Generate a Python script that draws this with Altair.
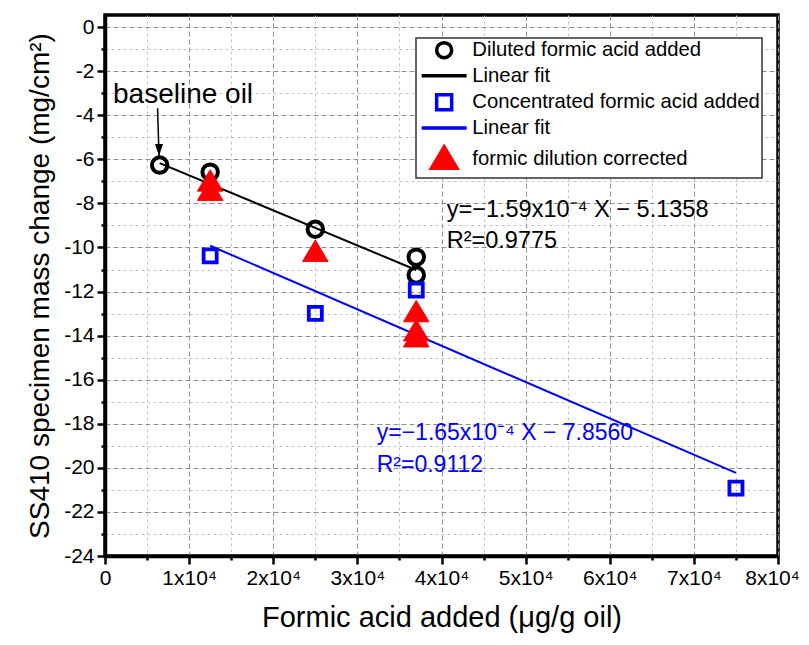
import altair as alt
import pandas as pd

# ---------------- data ----------------
dil_x = [6500, 12500, 25000, 37000, 37000]
dil_y = [-6.26, -6.58, -9.17, -10.44, -11.25]

con_x = [12500, 25000, 37000, 75000]
con_y = [-10.38, -12.99, -11.93, -20.92]

cor_x = [12500, 12500, 25000, 37000, 37000, 37000]
cor_y = [-7.0, -7.42, -10.19, -12.93, -13.8, -14.07]

fit_dil_x = [6500, 37000]
fit_dil_y = [-6.17, -11.02]
fit_con_x = [12500, 75000]
fit_con_y = [-9.92, -20.23]

keys = ["dil", "fit1", "con", "fit2", "cor"]
key_labels = ["Diluted formic acid added", "Linear fit",
              "Concentrated formic acid added", "Linear fit",
              "formic dilution corrected"]
stroke_colors = ["#000000", "#000000", "#0000FF", "#0000FF", "#FF0000"]
fill_colors = ["transparent", "transparent", "transparent", "transparent", "#FF0000"]
TRI = "M-1.7,1.3L0,-1.55L1.7,1.3Z"
LINE = "M-3,0H3"
shapes = ["circle", LINE, "square", LINE, TRI]

eq_text = ["y=\u22121.59x10\u207b\u2074 X \u2212 5.1358", "R\u00b2=0.9775",
           "y=\u22121.65x10\u207b\u2074 X \u2212 7.8560", "R\u00b2=0.9112"]
eq_x = [40620, 40620, 32300, 32300]
eq_y = [-8.61, -10.04, -18.74, -20.18]
eq_color = ["#000000", "#000000", "#0000FF", "#0000FF"]
eq_size = [23.5, 23.5, 23, 23]

note_text = ["baseline oil"]
note_x = [950]
note_y = [-3.45]
arrow_x = [6250]
arrow_y = [-3.68]
arrow_x2 = [6420]
arrow_y2 = [-5.85]

x_ticks = list(range(0, 80001, 5000))
y_ticks = list(range(-24, 1, 1))

FONT = "Liberation Sans"

# ---------------- tables ----------------
df_dil = pd.DataFrame({"x": dil_x, "y": dil_y, "key": "dil"})
df_con = pd.DataFrame({"x": con_x, "y": con_y, "key": "con"})
df_cor = pd.DataFrame({"x": cor_x, "y": cor_y, "key": "cor"})
df_f1 = pd.DataFrame({"x": fit_dil_x, "y": fit_dil_y, "key": "fit1"})
df_f2 = pd.DataFrame({"x": fit_con_x, "y": fit_con_y, "key": "fit2"})
df_eq = pd.DataFrame({"x": eq_x, "y": eq_y, "t": eq_text, "c": eq_color, "s": eq_size})
df_note = pd.DataFrame({"x": note_x, "y": note_y, "t": note_text})
df_arrow = pd.DataFrame({"x": arrow_x, "y": arrow_y, "x2": arrow_x2, "y2": arrow_y2})
df_head = pd.DataFrame({"x": arrow_x2, "y": arrow_y2})

x_axis = alt.Axis(
    values=x_ticks,
    labelExpr="datum.value % 10000 != 0 ? '' : (datum.value == 0 ? '0' : (datum.value / 10000) + 'x10\u2074')",
    labelOffset={"condition": {"test": "datum.value == 80000", "value": -6}, "value": 0},
    title="Formic acid added (\u03bcg/g oil)",
    titleFontSize=29,
    tickSize={"condition": {"test": "datum.value % 10000 != 0", "value": 4}, "value": 8},
    gridColor={"condition": {"test": "datum.value % 10000 != 0", "value": "#c4c4c4"}, "value": "#909090"},
    gridDash={"condition": {"test": "datum.value % 10000 != 0", "value": [3, 3]}, "value": [5, 3]},
    titlePadding=15,
)
y_axis = alt.Axis(
    values=y_ticks,
    labelExpr="datum.value % 2 != 0 ? '' : '' + datum.value",
    title="SS410 specimen mass change (mg/cm\u00b2)",
    titleFontSize=28,
    tickSize={"condition": {"test": "datum.value % 2 != 0", "value": 4}, "value": 8},
    gridColor={"condition": {"test": "datum.value % 2 != 0", "value": "#c4c4c4"}, "value": "#909090"},
    gridDash={"condition": {"test": "datum.value % 2 != 0", "value": [3, 3]}, "value": [5, 3]},
    titlePadding=9,
)

xs = alt.Scale(domain=[0, 80000], nice=False, zero=False)
ys = alt.Scale(domain=[-24, 0.55], nice=False, zero=False)

legend = alt.Legend(
    title=None,
    orient="none",
    legendX=311,
    legendY=23,
    labelExpr="datum.label == 'dil' ? 'Diluted formic acid added' : datum.label == 'con' ? 'Concentrated formic acid added' : datum.label == 'cor' ? 'formic dilution corrected' : 'Linear fit'",
)


def X():
    return alt.X("x:Q", scale=xs, axis=x_axis)


def Y():
    return alt.Y("y:Q", scale=ys, axis=y_axis)


def key_enc():
    return dict(
        stroke=alt.Stroke("key:N", scale=alt.Scale(domain=keys, range=stroke_colors), legend=legend),
        fill=alt.Fill("key:N", scale=alt.Scale(domain=keys, range=fill_colors), legend=legend),
        shape=alt.Shape("key:N", scale=alt.Scale(domain=keys, range=shapes), legend=legend),
    )


line1 = alt.Chart(df_f1).mark_line(strokeWidth=2).encode(
    x=X(), y=Y(), stroke=key_enc()["stroke"])
line2 = alt.Chart(df_f2).mark_line(strokeWidth=2).encode(
    x=X(), y=Y(), stroke=key_enc()["stroke"])

pts_dil = alt.Chart(df_dil).mark_point(size=240, strokeWidth=4, opacity=1).encode(
    x=X(), y=Y(), **key_enc())
pts_con = alt.Chart(df_con).mark_point(size=170, strokeWidth=3.8, opacity=1).encode(
    x=X(), y=Y(), **key_enc())
pts_cor = alt.Chart(df_cor).mark_point(size=225, strokeWidth=1, opacity=1).encode(
    x=X(), y=Y(), **key_enc())

eqs = alt.Chart(df_eq).mark_text(
    align="left", baseline="alphabetic", font=FONT
).encode(x=X(), y=Y(), text="t:N", color=alt.Color("c:N", scale=None),
         size=alt.Size("s:Q", scale=None))

note = alt.Chart(df_note).mark_text(
    align="left", baseline="alphabetic", font=FONT, fontSize=28, color="black"
).encode(x=X(), y=Y(), text="t:N")

arrow = alt.Chart(df_arrow).mark_rule(color="black", strokeWidth=1.5).encode(
    x=X(), y=Y(), x2="x2:Q", y2="y2:Q")
head = alt.Chart(df_head).mark_point(
    shape="M-1,-3L1,-3L0,0Z", size=64, filled=True, color="black", opacity=1
).encode(x=X(), y=Y())

chart = alt.layer(
    line1, line2, pts_dil, pts_con, pts_cor, eqs, note, arrow, head
).properties(
    width=673, height=541,
    autosize=alt.AutoSizeParams(type="none"),
    padding={"left": 97, "top": 7, "right": 23, "bottom": 81},
).configure_view(
    stroke="black", strokeWidth=3.5
).configure_axis(
    labelFont=FONT, titleFont=FONT, labelFontSize=21,
    titleFontWeight="normal", labelColor="black", titleColor="black",
    domainColor="black", domainWidth=3.5, tickColor="black", tickWidth=2.5,
    labelPadding=3, labelFlush=False, labelOverlap=False, labelBound=False,
    grid=True, gridWidth=1,
).configure_legend(
    labelFont=FONT, labelFontSize=20.3, labelColor="black",
    symbolSize=225, symbolStrokeWidth=3.5, strokeColor="#333333", fillColor="white",
    padding=2, rowPadding=0.6, labelOffset=18, symbolOffset=16, strokeWidth=1.5,
    labelLimit=400,
)

chart.save("out.html", embed_options={"renderer": "svg", "actions": False})
